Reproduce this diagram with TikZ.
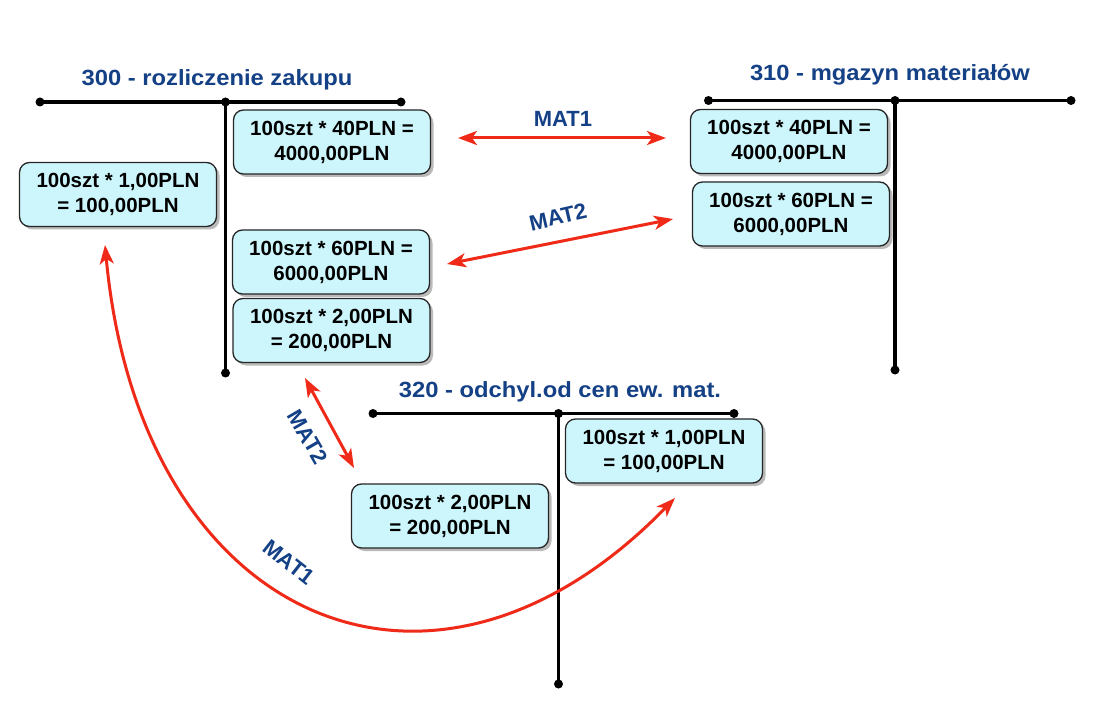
\documentclass[tikz,border=0pt]{standalone}
\usepackage{fontspec}
\setmainfont{Liberation Sans}
\usetikzlibrary{arrows.meta,shadows}
\definecolor{boxfill}{RGB}{204,246,252}
\definecolor{titleblue}{RGB}{20,64,134}
\definecolor{arrowred}{RGB}{240,42,24}
\begin{document}
\begin{tikzpicture}[x=1pt,y=-1pt,
 acct/.style={line width=3.2pt, black},
 dotpt/.style={circle, fill=black, inner sep=0pt, minimum size=9pt},
 entry/.style={draw=black!85, line width=1.3pt, rounded corners=10pt, fill=boxfill,
   minimum width=197pt, minimum height=64pt, inner sep=0pt, align=center,
   font=\fontsize{20.5}{25}\selectfont\bfseries,
   drop shadow={shadow xshift=3pt, shadow yshift=-3pt, opacity=0.45, fill=black!60}},
 title/.style={text=titleblue, font=\fontsize{22}{24}\selectfont\bfseries, inner sep=0pt, xscale=1.08},
 matlbl/.style={text=titleblue, font=\fontsize{22}{24}\selectfont\bfseries, inner sep=0pt},
 flow/.style={arrowred, line width=3pt,
   {Stealth[length=19pt,width=14pt,inset=5pt]}-{Stealth[length=19pt,width=14pt,inset=5pt]}}
]
\useasboundingbox (0,0) rectangle (1120,714);
\fill[white] (0,0) rectangle (1120,714);

% ---- account 300
\node[title] (t300) at (217,80) {300 - rozliczenie zakupu};
\coordinate (a300l) at (40,102);
\coordinate (a300j) at (225.5,102);
\coordinate (a300r) at (401,102);
\coordinate (a300b) at (225.5,373);
\draw[acct] (a300l) -- (a300r);
\draw[acct] (a300j) -- (a300b);
\node[dotpt] (d300l) at (a300l) {};
\node[dotpt] (d300j) at (a300j) {};
\node[dotpt] (d300r) at (a300r) {};
\node[dotpt] (d300b) at (a300b) {};

% ---- account 310
\node[title] (t310) at (890,75) {310 - mgazyn materiałów};
\coordinate (a310l) at (708.5,100.5);
\coordinate (a310j) at (895,100.5);
\coordinate (a310r) at (1071,100.5);
\coordinate (a310b) at (895,370);
\draw[acct] (a310l) -- (a310r);
\draw[acct] (a310j) -- (a310b);
\node[dotpt] (d310l) at (a310l) {};
\node[dotpt] (d310j) at (a310j) {};
\node[dotpt] (d310r) at (a310r) {};
\node[dotpt] (d310b) at (a310b) {};

% ---- account 320
\node[title] (t320) at (560,392) {320 - odchyl.od cen ew. mat.};
\coordinate (a320l) at (373,413.5);
\coordinate (a320j) at (558.5,413.5);
\coordinate (a320r) at (734,413.5);
\coordinate (a320b) at (558.5,684);
\draw[acct] (a320l) -- (a320r);
\draw[acct] (a320j) -- (a320b);
\node[dotpt] (d320l) at (a320l) {};
\node[dotpt] (d320j) at (a320j) {};
\node[dotpt] (d320r) at (a320r) {};
\node[dotpt] (d320b) at (a320b) {};

% ---- entries
\node[entry] (A1) at (332,142) {100szt * 40PLN =\\4000,00PLN};
\node[entry] (A0) at (118,194.5) {100szt * 1,00PLN\\= 100,00PLN};
\node[entry] (A2) at (331,262) {100szt * 60PLN =\\6000,00PLN};
\node[entry] (A3) at (331.5,330.5) {100szt * 2,00PLN\\= 200,00PLN};
\node[entry] (B1) at (789,141.5) {100szt * 40PLN =\\4000,00PLN};
\node[entry] (B2) at (791,214) {100szt * 60PLN =\\6000,00PLN};
\node[entry] (C1) at (664,451) {100szt * 1,00PLN\\= 100,00PLN};
\node[entry] (C2) at (450,516) {100szt * 2,00PLN\\= 200,00PLN};

% ---- flows
\coordinate (m1a) at (458,138);
\coordinate (m1b) at (666,138);
\draw[flow] (m1a) -- (m1b);
\node[matlbl] (l1) at (563,119) {MAT1};

\coordinate (m2a) at (447,264);
\coordinate (m2b) at (673,219);
\draw[flow] (m2a) -- (m2b);
\node[matlbl, rotate=13] (l2) at (558,217) {MAT2};

\coordinate (m3a) at (305,378);
\coordinate (m3b) at (354,468);
\draw[flow] (m3a) -- (m3b);
\node[matlbl, rotate=-60] (l3) at (308,437) {MAT2};

\coordinate (m4a) at (105,245);
\coordinate (m4b) at (675,498);
\draw[flow] (m4a) .. controls (140,620) and (430,750) .. (m4b);
\node[matlbl, rotate=-38] (l4) at (289,562) {MAT1};
\end{tikzpicture}
\end{document}
